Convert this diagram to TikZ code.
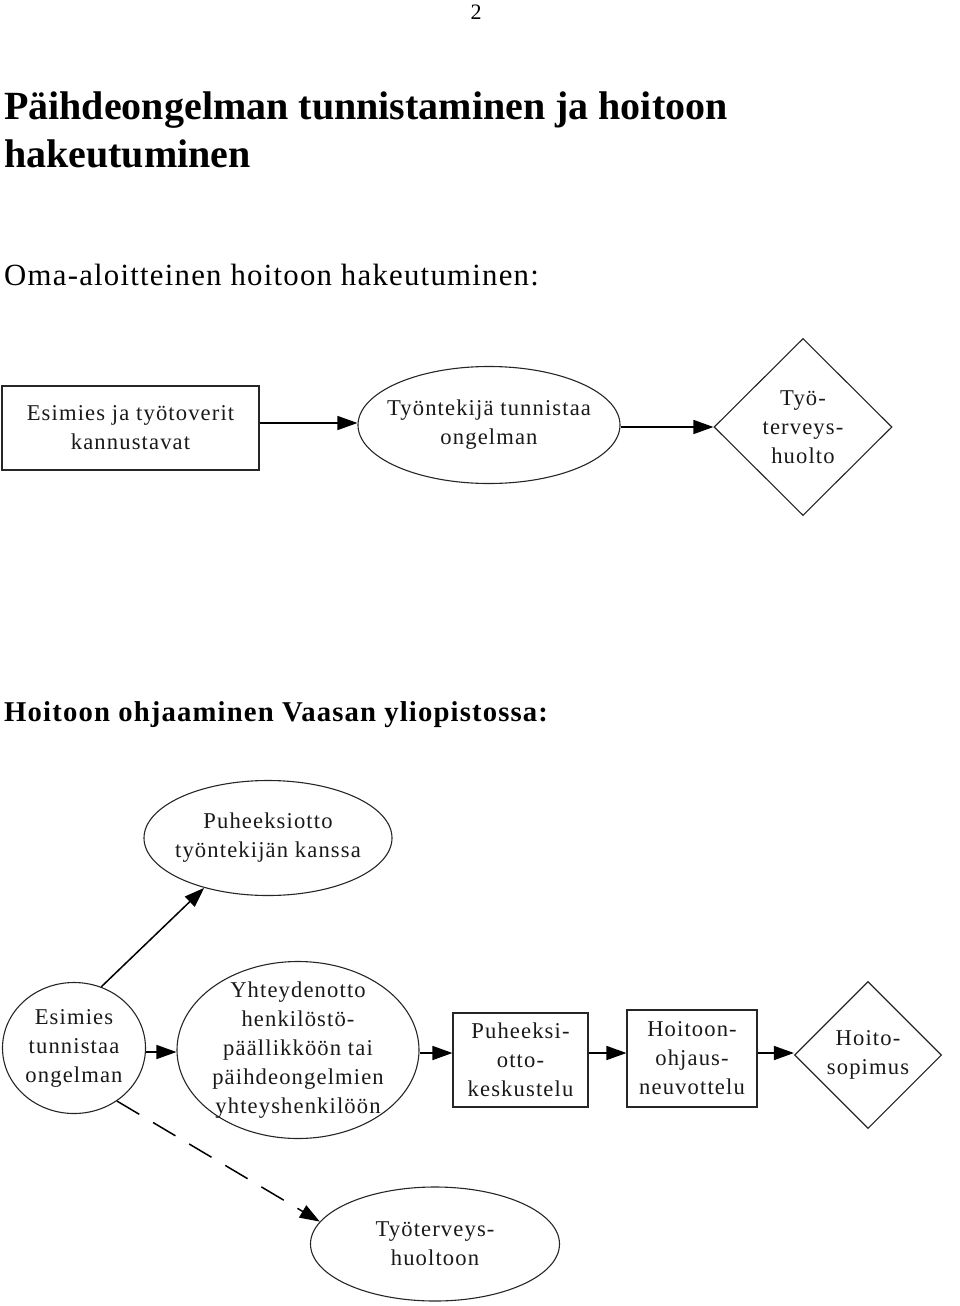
\documentclass[tikz,border=0pt]{standalone}
\usepackage{fontspec}
\setmainfont{Liberation Serif}
\newfontfamily\diag[LetterSpace=5]{Liberation Serif}
\newfontfamily\head[LetterSpace=4]{Liberation Serif}
\usetikzlibrary{shapes.geometric,arrows.meta}
\tikzset{
  shp/.style={draw=black!85, line width=1.1pt, inner sep=0pt, fill=none},
  ell/.style={shp, ellipse},
  rbox/.style={shp, rectangle},
  dia/.style={shp, diamond},
  txt/.style={align=center, inner sep=0pt, font={\diag\fontsize{22.6}{29}\selectfont}, text=black!90},
  arr/.style={line width=1.5pt, -{Triangle[length=20pt,width=14pt]}},
  darr/.style={arr, dash pattern=on 26pt off 16pt},
}
\begin{document}
\begin{tikzpicture}[x=1pt,y=-1pt]
\useasboundingbox (0,0) rectangle (960,1306);
\node[font={\fontsize{22}{24}\selectfont}] (pn) at (476,12) {2};
\node[anchor=base west, inner sep=0pt, font={\bfseries\fontsize{40}{48}\selectfont}] (t1) at (4,119) {Päihdeongelman tunnistaminen ja hoitoon};
\node[anchor=base west, inner sep=0pt, font={\bfseries\fontsize{40}{48}\selectfont}] (t2) at (4,167) {hakeutuminen};
\node[anchor=base west, inner sep=0pt, font={\head\fontsize{30.8}{34}\selectfont}] (h1) at (4,285) {Oma-aloitteinen hoitoon hakeutuminen:};
\node[anchor=base west, inner sep=0pt, font={\head\bfseries\fontsize{28.7}{32}\selectfont}] (h2) at (4,721) {Hoitoon ohjaaminen Vaasan yliopistossa:};

% top row
\node[rbox, minimum width=257, minimum height=84] (a) at (130.5,428) {};
\node[txt] (at) at (a) {Esimies ja työtoverit\\kannustavat};
\node[ell, minimum width=262, minimum height=117] (b) at (489,425) {};
\node[txt] (bt) at (b) {Työntekijä tunnistaa\\ongelman};
\node[dia, minimum width=178, minimum height=177] (c) at (803,427) {};
\node[txt] (ct) at (c) {Työ-\\terveys-\\huolto};
\draw[arr] (a.east |- 0,423) coordinate (a1) -- (b.west |- a1);
\draw[arr] (b.east |- 0,427) coordinate (b1) -- (c.west);

% bottom part
\node[ell, minimum width=248, minimum height=115] (p) at (268,838) {};
\node[txt] (pt) at (p) {Puheeksiotto\\työntekijän kanssa};
\node[ell, minimum width=143, minimum height=131] (e) at (74,1048) {};
\node[txt] (et) at (e) {Esimies\\tunnistaa\\ongelman};
\node[ell, minimum width=242, minimum height=177] (y) at (298,1050) {};
\node[txt] (yt) at (y) {Yhteydenotto\\henkilöstö-\\päällikköön tai\\päihdeongelmien\\yhteyshenkilöön};
\node[rbox, minimum width=135, minimum height=94] (k) at (520.5,1060) {};
\node[txt] (kt) at (k) {Puheeksi-\\otto-\\keskustelu};
\node[rbox, minimum width=130, minimum height=97] (n) at (692,1058.5) {};
\node[txt] (nt) at (n) {Hoitoon-\\ohjaus-\\neuvottelu};
\node[dia, minimum width=147, minimum height=147] (s) at (868,1055) {};
\node[txt] (st) at (s) {Hoito-\\sopimus};
\node[ell, minimum width=249, minimum height=114] (w) at (435,1244) {};
\node[txt] (wt) at (w) {Työterveys-\\huoltoon};

\draw[arr] (e.66) -- (p.218);
\draw[darr] (e.-51) -- (w.169);
\draw[arr] (e.east |- 0,1052) coordinate (e1) -- (y.west |- e1);
\draw[arr] (y.east |- 0,1053) coordinate (y1) -- (k.west |- y1);
\draw[arr] (k.east |- y1) -- (n.west |- y1);
\draw[arr] (n.east |- y1) -- (s.west |- y1);
\end{tikzpicture}
\end{document}
